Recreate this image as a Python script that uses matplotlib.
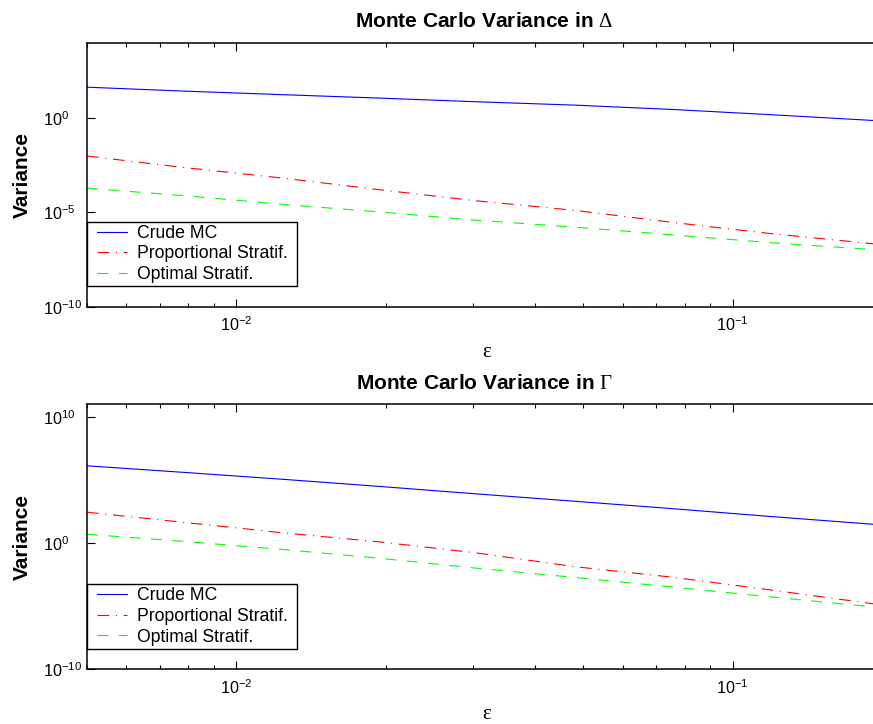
import numpy as np
import matplotlib
matplotlib.use('Agg')
import matplotlib.pyplot as plt
from matplotlib.path import Path
from matplotlib.ticker import FixedLocator, NullLocator, NullFormatter, LogLocator

plt.rcParams['font.family'] = ['Liberation Sans', 'DejaVu Sans']
plt.rcParams['mathtext.fontset'] = 'custom'
plt.rcParams['mathtext.rm'] = 'Liberation Serif'
plt.rcParams['mathtext.it'] = 'Liberation Serif:italic'
plt.rcParams['mathtext.bf'] = 'Liberation Serif:bold'
plt.rcParams['lines.scale_dashes'] = False

# ---- data ----
eps = [0.005, 0.0079, 0.0125, 0.0195, 0.0303, 0.048, 0.0757, 0.12, 0.2]

delta_crude = [43.7, 26.9, 17.4, 11.5, 7.41, 4.90, 2.88, 1.51, 0.708]
delta_prop = [9.77e-3, 2.34e-3, 6.46e-4, 1.58e-4, 4.17e-5, 1.29e-5, 2.95e-6, 7.41e-7, 1.95e-7]
delta_opt = [1.95e-4, 7.59e-5, 2.63e-5, 1.05e-5, 3.89e-6, 1.66e-6, 6.46e-7, 2.45e-7, 1.0e-7]

gamma_crude = [1.32e6, 3.89e5, 1.10e5, 3.02e4, 7.94e3, 2.04e3, 525, 123, 26.9]
gamma_prop = [275, 41.7, 6.17, 1.20, 0.166, 0.0132, 1.91e-3, 1.82e-4, 1.20e-5]
gamma_opt = [4.90, 1.29, 0.295, 0.0603, 0.0102, 1.86e-3, 3.16e-4, 5.13e-5, 7.24e-6]

labels = ['Crude MC', 'Proportional Stratif.', 'Optimal Stratif.']
titles = ['Monte Carlo Variance in $\\mathrm{\\Delta}$', 'Monte Carlo Variance in $\\mathrm{\\Gamma}$']
xlims = (0.005, 0.2)
ylims = [(1e-10, 1e4), (1e-10, 1e11)]
yticks = [[1e-10, 1e-5, 1e0], [1e-10, 1e0, 1e10]]

W, H = 873, 724
fig = plt.figure(figsize=(W / 100, H / 100), dpi=100)

def axes_px(left, top, right, bottom):
    return fig.add_axes([left / W, 1 - bottom / H, (right - left) / W, (bottom - top) / H])

LEG_DX = 0.55   # horizontal frame padding (fraction of font size)
LEG_DY = 0.176  # vertical frame padding

def legend_frame(x0, y0, width, height, mutation_size):
    dx = LEG_DX * mutation_size
    dy = LEG_DY * mutation_size
    xa, ya = x0 - dx, y0 - dy
    xb, yb = x0 + width + dx, y0 + height + dy
    return Path([(xa, ya), (xb, ya), (xb, yb), (xa, yb), (xa, ya)],
                [Path.MOVETO, Path.LINETO, Path.LINETO, Path.LINETO, Path.CLOSEPOLY])

boxes = [(87, 42.7, 882, 306.7), (87, 404.3, 882, 669)]
title_base = [26.7, 389.3]
xlabel_base = [357.3, 719.3]
datasets = [(delta_crude, delta_prop, delta_opt), (gamma_crude, gamma_prop, gamma_opt)]
leg_bottom_px = [286, 648.7]
leg_fs = 12.7
fs_px = leg_fs * 100 / 72

for i in range(2):
    l, t, r, b = boxes[i]
    ax = axes_px(l, t, r, b)
    c, p, o = datasets[i]
    ax.plot(eps, c, color=(0, 0, 1), lw=0.8, label=labels[0])
    ax.plot(eps, p, color=(1, 0, 0), lw=0.8, linestyle=(0, (8.4, 4.8, 0.8, 4.8)), label=labels[1])
    ax.plot(eps, o, color=(0, 1, 0), lw=0.8, linestyle=(0, (7.9, 7.5)), label=labels[2])
    ax.set_xscale('log')
    ax.set_yscale('log')
    ax.set_xlim(*xlims)
    ax.set_ylim(*ylims[i])
    ax.yaxis.set_major_locator(FixedLocator(yticks[i]))
    ax.yaxis.set_minor_locator(NullLocator())
    ax.xaxis.set_major_locator(LogLocator(base=10))
    ax.xaxis.set_minor_locator(LogLocator(base=10, subs=np.arange(2, 10)))
    ax.xaxis.set_minor_formatter(NullFormatter())
    for s in ax.spines.values():
        s.set_linewidth(1.1)
    ax.tick_params(which='both', direction='in', top=True, right=True, width=0.8,
                   labelsize=11.7, colors='black')
    ax.tick_params(which='major', length=5.5)
    ax.tick_params(which='minor', length=3)
    ax.tick_params(axis='x', pad=6.5)
    ax.tick_params(axis='y', pad=(87 - 42.7) * 0.72)
    for tk in ax.yaxis.get_major_ticks():
        tk.label1.set_horizontalalignment('left')

    dx_px = LEG_DX * fs_px
    dy_px = LEG_DY * fs_px
    anchor = ((dx_px) / (r - l), (b - leg_bottom_px[i] + dy_px) / (b - t))
    leg = ax.legend(loc='lower left', bbox_to_anchor=anchor, borderaxespad=0,
                    fontsize=leg_fs, frameon=True, fancybox=False, edgecolor='black',
                    framealpha=1, handlelength=1.70, handletextpad=0.57, borderpad=0.0,
                    labelspacing=0.204)
    frame = leg.get_frame()
    frame.set_linewidth(1.0)
    frame.set_boxstyle(legend_frame)

    fig.text(484.5 / W, 1 - title_base[i] / H, titles[i], ha='center', va='baseline',
             fontsize=15, fontweight='bold')
    fig.text(487 / W, 1 - xlabel_base[i] / H, '\u03b5', ha='center', va='baseline',
             fontsize=15, family=['Liberation Serif', 'DejaVu Serif'])
    fig.text(22 / W, 1 - ((t + b) / 2) / H, 'Variance', ha='center', va='center',
             rotation=90, fontsize=15, fontweight='bold')

fig.savefig('out.png', dpi=100)
